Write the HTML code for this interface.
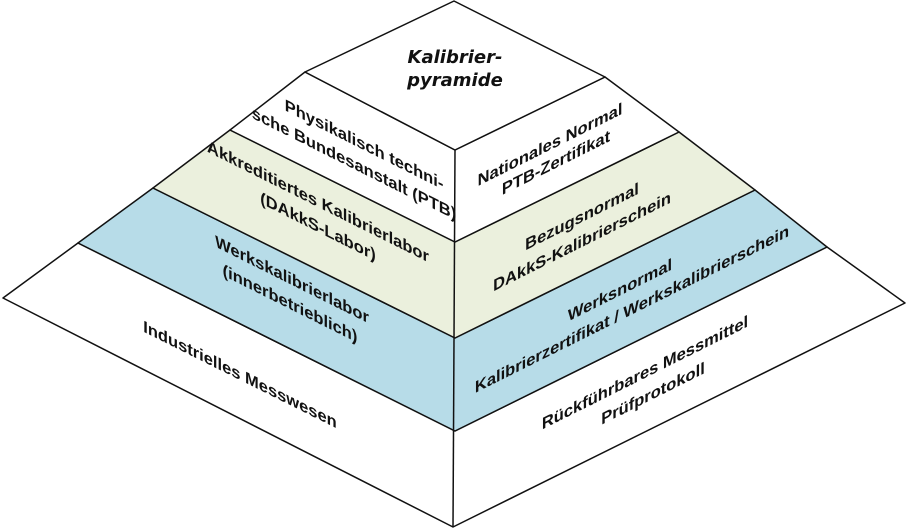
<!DOCTYPE html>
<html><head><meta charset="utf-8"><style>
html,body{margin:0;padding:0;background:#fff;}
svg{display:block;}
text{font-family:"Liberation Sans",sans-serif;font-weight:bold;font-size:16.5px;fill:#111;text-anchor:middle;}
</style></head><body>
<svg width="907" height="528" viewBox="0 0 907 528" xmlns="http://www.w3.org/2000/svg">
<g stroke="#111" stroke-width="1.5" stroke-linejoin="round">
<polygon points="3,298 78,243 455,431 827,247 905,303 453,527" fill="#fff"/>
<polygon points="78,243 153,188 455,338 755,190 827,247 455,431" fill="#b7dce8"/>
<polygon points="153,188 230,130 455,242 679,132 755,190 455,338" fill="#ebf0dd"/>
<polygon points="230,130 305,72 455,150 605,77 679,132 455,242" fill="#fff"/>
<polygon points="454,1 605,77 455,150 305,72" fill="#fff"/>
<line x1="455" y1="150" x2="453" y2="527"/>
</g>
<text x="455" y="63" style="font-family:'DejaVu Sans',sans-serif;font-size:18px;font-style:italic;">Kalibrier-</text>
<text x="455" y="86" style="font-family:'DejaVu Sans',sans-serif;font-size:18px;font-style:italic;">pyramide</text>

<g transform="translate(360,148) skewY(26.6)">
<text x="4" y="0">Physikalisch techni-</text>
<text x="-6" y="24">sche Bundesanstalt (PTB)</text></g>
<g transform="translate(550,150) skewY(-26.6)">
<text x="0" y="0">Nationales Normal</text>
<text x="6" y="21">PTB-Zertifikat</text></g>

<g transform="translate(318,207) skewY(26.6)">
<text x="0" y="0">Akkreditiertes Kalibrierlabor</text>
<text x="0" y="25">(DAkkS-Labor)</text></g>
<g transform="translate(582,222) skewY(-26.6)">
<text x="0" y="0">Bezugsnormal</text>
<text x="0" y="25">DAkkS-Kalibrierschein</text></g>

<g transform="translate(292,285) skewY(26.6)">
<text x="0" y="0">Werkskalibrierlabor</text>
<text x="-2" y="25">(innerbetrieblich)</text></g>
<g transform="translate(625,293) skewY(-26.6)">
<text x="-5" y="0">Werksnormal</text>
<text x="7" y="25">Kalibrierzertifikat / Werkskalibrierschein</text></g>

<g transform="translate(240,380) skewY(26.6)">
<text x="0" y="0">Industrielles Messwesen</text></g>
<g transform="translate(645,378) skewY(-26.6)">
<text x="0" y="0">Rückführbares Messmittel</text>
<text x="8" y="25">Prüfprotokoll</text></g>
</svg>
</body></html>
